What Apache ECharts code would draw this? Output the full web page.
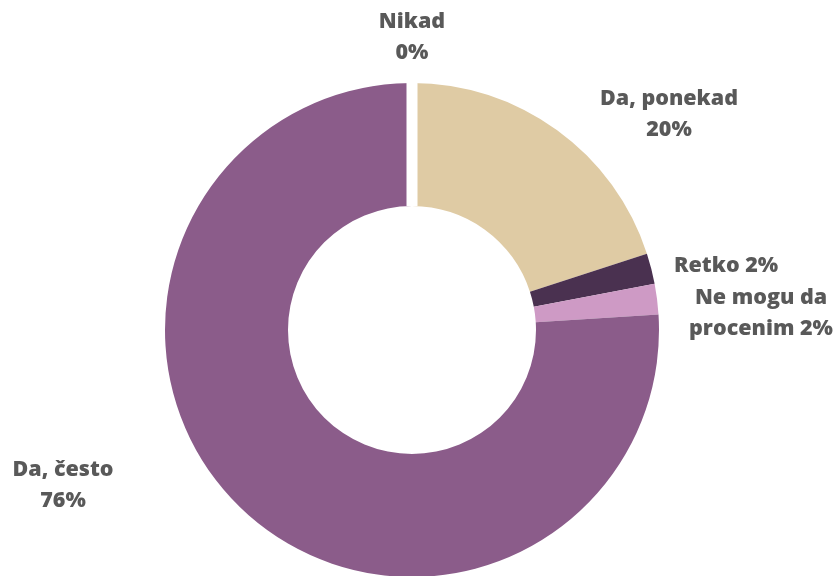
<!DOCTYPE html>
<html>
<head>
<meta charset="utf-8">
<script src="https://cdn.jsdelivr.net/npm/echarts@6/dist/echarts.min.js"></script>
<style>
  html, body { margin: 0; padding: 0; background: #ffffff; }
  #chart { width: 838px; height: 576px; }
</style>
</head>
<body>
<div id="chart"></div>
<script>
// Answer categories, drawn clockwise from 12 o'clock; the zero slice sits last so its white divider is painted on top
const categories = ['Da, ponekad', 'Retko', 'Ne mogu da procenim', 'Da, često', 'Nikad'];
const values = [20, 2, 2, 76, 0];
const colors = ['#dfcba4', '#4a3150', '#ce9ac5', '#8b5c8a', '#ffffff'];
// Label text per slice ({d} = percentage)
const labelTexts = ['{b}\n{d}%', '{b} {d}%', 'Ne mogu da\nprocenim {d}%', '{b}\n{d}%', '{b}\n{d}%'];
// Label anchor points and alignment
const labelPos = [
  { x: 669, y: 114, align: 'center' },
  { x: 674, y: 266, align: 'left' },
  { x: 761, y: 313, align: 'center' },
  { x: 63,  y: 485, align: 'center' },
  { x: 412, y: 37,  align: 'center' }
];

const chart = echarts.init(document.getElementById('chart'), null, { renderer: 'canvas' });

chart.setOption({
  backgroundColor: '#ffffff',
  animation: false,
  series: [{
    type: 'pie',
    center: [412, 330],
    radius: [124, 247],
    startAngle: 90,
    clockwise: true,
    avoidLabelOverlap: false,
    minShowLabelAngle: -1,
    labelLine: { show: false },
    label: {
      show: true,
      position: 'outside',
      color: '#595959',
      fontFamily: '"Open Sans", sans-serif',
      fontWeight: 800,
      fontSize: 21.5,
      lineHeight: 31
    },
    labelLayout: function (p) {
      const pos = labelPos[p.dataIndex];
      return { x: pos.x, y: pos.y, align: pos.align, verticalAlign: 'middle' };
    },
    data: categories.map(function (name, i) {
      return {
        name: name,
        value: values[i],
        itemStyle: values[i] === 0
          ? { color: '#ffffff', borderColor: '#ffffff', borderWidth: 11, borderJoin: 'bevel' }
          : { color: colors[i], borderWidth: 0 },
        label: { formatter: labelTexts[i] }
      };
    })
  }]
});
</script>
</body>
</html>
